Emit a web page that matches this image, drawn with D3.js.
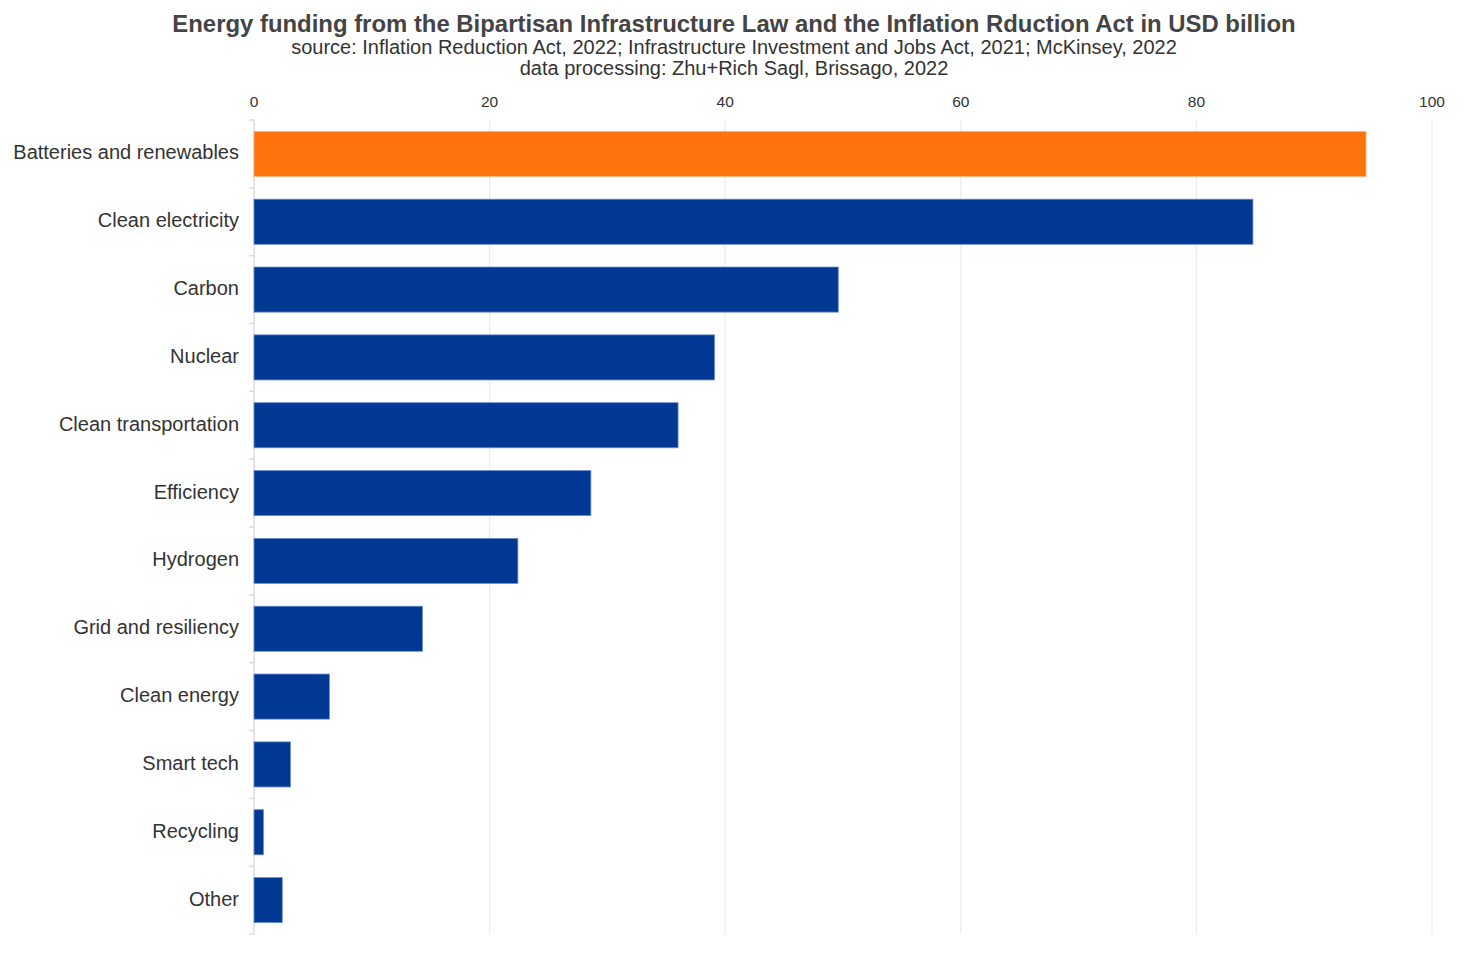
<!DOCTYPE html>
<html>
<head>
<meta charset="utf-8">
<script src="https://cdn.jsdelivr.net/npm/d3@7"></script>
<style>
  body { margin: 0; background: #fff; }
  svg { font-family: "Liberation Sans", Arial, sans-serif; }
</style>
</head>
<body>
<svg id="chart" width="1470" height="960"></svg>
<script>
// categories and values (USD billion)
var categories = ['Batteries and renewables', 'Clean electricity', 'Carbon', 'Nuclear',
  'Clean transportation', 'Efficiency', 'Hydrogen', 'Grid and resiliency',
  'Clean energy', 'Smart tech', 'Recycling', 'Other']
var values = [94.4, 84.8, 49.6, 39.1, 36.0, 28.6, 22.4, 14.3, 6.4, 3.1, 0.8, 2.4]
var xTicks = [0, 20, 40, 60, 80, 100]
var highlight = 'Batteries and renewables'

var title = 'Energy funding from the Bipartisan Infrastructure Law and the Inflation Rduction Act in USD billion'
var subtitles = [
  'source: Inflation Reduction Act, 2022; Infrastructure Investment and Jobs Act, 2021; McKinsey, 2022',
  'data processing: Zhu+Rich Sagl, Brissago, 2022'
]

var data = categories.map((c, i) => ({ name: c, value: values[i] }))

var margin = { top: 120, left: 254, right: 38, bottom: 26 }
var W = 1470, H = 960
var svg = d3.select('#chart')

var x = d3.scaleLinear().domain([0, 100]).range([margin.left, W - margin.right])
var y = d3.scaleBand()
  .domain(categories)
  .range([margin.top, H - margin.bottom])
  .paddingInner(0.335)
  .paddingOuter(0.1675)

// title block
svg.append('text')
  .attr('x', 734).attr('y', 32)
  .attr('text-anchor', 'middle')
  .attr('font-size', 23.9).attr('font-weight', 'bold')
  .attr('fill', '#444')
  .text(title)

subtitles.forEach((s, i) => {
  svg.append('text')
    .attr('x', 734).attr('y', 54 + i * 21)
    .attr('text-anchor', 'middle')
    .attr('font-size', 20)
    .attr('fill', '#333')
    .text(s)
})

// gridlines
svg.append('g')
  .selectAll('line')
  .data(xTicks.filter((d) => d > 0))
  .enter()
  .append('line')
  .attr('x1', (d) => x(d)).attr('x2', (d) => x(d))
  .attr('y1', margin.top).attr('y2', H - margin.bottom)
  .attr('stroke', '#ebebeb').attr('stroke-width', 1.2)

// top axis labels
svg.append('g')
  .selectAll('text')
  .data(xTicks)
  .enter()
  .append('text')
  .attr('x', (d) => x(d)).attr('y', 107)
  .attr('text-anchor', 'middle')
  .attr('font-size', 15.5)
  .attr('fill', '#333')
  .text((d) => d)

// y axis line + ticks on band edges
var yAxis = svg.append('g')
yAxis.append('line')
  .attr('x1', x(0)).attr('x2', x(0))
  .attr('y1', margin.top).attr('y2', H - margin.bottom)
  .attr('stroke', '#dcdcdc').attr('stroke-width', 1.5)

var edges = categories.map((c) => y(c) - y.step() * y.paddingInner() / 2)
edges.push(H - margin.bottom)
edges[0] = margin.top
yAxis.selectAll('line.tick')
  .data(edges)
  .enter()
  .append('line')
  .attr('class', 'tick')
  .attr('x1', x(0) - 5).attr('x2', x(0))
  .attr('y1', (d) => d).attr('y2', (d) => d)
  .attr('stroke', '#dcdcdc').attr('stroke-width', 1.5)

// bars
svg.append('g')
  .selectAll('rect')
  .data(data)
  .enter()
  .append('rect')
  .attr('x', x(0))
  .attr('y', (d) => y(d.name))
  .attr('width', (d) => x(d.value) - x(0))
  .attr('height', y.bandwidth())
  .attr('fill', (d) => (d.name === highlight ? '#ff730d' : '#003893'))
  .attr('stroke', (d) => (d.name === highlight ? '#ffb27a' : '#6f8fcf'))
  .attr('stroke-width', 0.8)

// category labels
svg.append('g')
  .selectAll('text')
  .data(data)
  .enter()
  .append('text')
  .attr('x', x(0) - 15)
  .attr('y', (d) => y(d.name) + y.bandwidth() / 2 - 1.5)
  .attr('dy', '0.35em')
  .attr('text-anchor', 'end')
  .attr('font-size', 20)
  .attr('fill', '#333')
  .text((d) => d.name)
</script>
</body>
</html>
